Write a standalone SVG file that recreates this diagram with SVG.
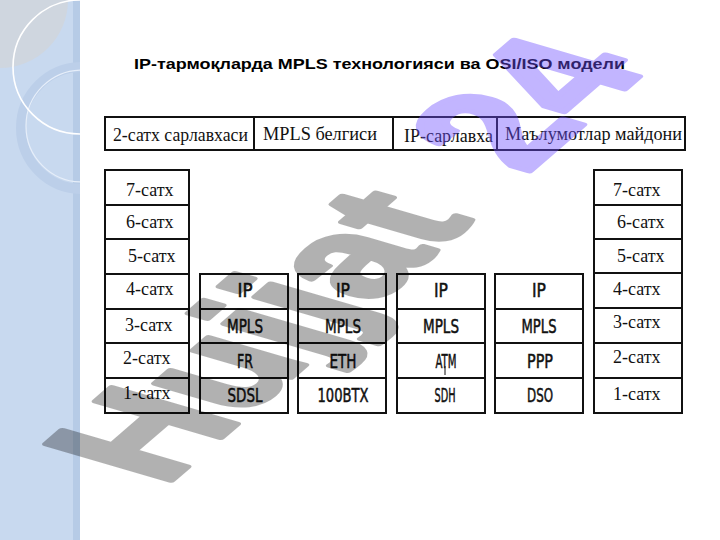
<svg xmlns="http://www.w3.org/2000/svg" width="720" height="540" viewBox="0 0 720 540">
<defs>
<style>
.box{fill:#fff;stroke:#111;stroke-width:2}
.ln{stroke:#111;stroke-width:2}
.ser{font-family:"Liberation Serif","Times New Roman",serif;font-size:18px;fill:#111}
.tech{font-family:"DejaVu Sans Condensed","DejaVu Sans","Liberation Sans",sans-serif;font-size:20px;fill:#111;stroke:#111;stroke-width:0.5;text-anchor:middle}
.title{font-family:"Liberation Sans",Arial,sans-serif;font-weight:bold;font-size:15px;fill:#000}
.wm{font-family:"Liberation Sans",Arial,sans-serif;font-weight:bold;font-size:100px;stroke-width:4;stroke-linejoin:round}
</style>
<clipPath id="strip"><rect x="0" y="0" width="80" height="540"/></clipPath>
</defs>
<rect width="720" height="540" fill="#fff"/>
<g id="sidebar" clip-path="url(#strip)">
<rect x="0" y="0" width="80" height="540" fill="#c8d9ef"/>
<rect x="73" y="0" width="7" height="540" fill="#b6cbe6"/>
<circle cx="0" cy="0" r="68" fill="#cfd6df"/>
<circle cx="82" cy="128" r="61" fill="none" stroke="#bccfe9" stroke-width="10"/>
<circle cx="82" cy="126" r="56" fill="none" stroke="#e6eef9" stroke-width="1.2"/>
<circle cx="80" cy="67" r="67" fill="none" stroke="#ffffff" stroke-width="1.6"/>
</g>
<text class="title" x="134" y="69" textLength="491" lengthAdjust="spacingAndGlyphs">IP-тармоқларда MPLS технологияси ва OSI/ISO модели</text>
<g id="header">
<rect class="box" x="105" y="117" width="580" height="33" stroke-width="2.5"/>
<g id="h-l2"><text class="ser" x="113" y="141" textLength="135" lengthAdjust="spacingAndGlyphs">2-сатх сарлавхаси</text></g>
<line class="ln" x1="254" y1="117" x2="254" y2="150"/>
<g id="h-mpls"><text class="ser" x="263" y="140" textLength="114" lengthAdjust="spacingAndGlyphs">MPLS белгиси</text></g>
<line class="ln" x1="393" y1="117" x2="393" y2="150" stroke-width="2.5"/>
<g id="h-ip"><text class="ser" x="404" y="142" textLength="89" lengthAdjust="spacingAndGlyphs">IP-сарлавха</text></g>
<line class="ln" x1="497" y1="117" x2="497" y2="150" stroke-width="2.5"/>
<g id="h-data"><text class="ser" x="505" y="140" textLength="177" lengthAdjust="spacingAndGlyphs">Маълумотлар майдони</text></g>
</g>
<g id="osi-left">
<rect class="box" x="105" y="170" width="84" height="243"/>
<line class="ln" x1="105" y1="205" x2="189" y2="205"/>
<line class="ln" x1="105" y1="239" x2="189" y2="239"/>
<line class="ln" x1="105" y1="274" x2="189" y2="274"/>
<line class="ln" x1="105" y1="309" x2="189" y2="309"/>
<line class="ln" x1="105" y1="343" x2="189" y2="343"/>
<line class="ln" x1="105" y1="378" x2="189" y2="378"/>
<text class="ser" x="126" y="196">7-сатх</text>
<text class="ser" x="126" y="228">6-сатх</text>
<text class="ser" x="128" y="262">5-сатх</text>
<text class="ser" x="126" y="295">4-сатх</text>
<text class="ser" x="125" y="331">3-сатх</text>
<text class="ser" x="123" y="364">2-сатх</text>
<text class="ser" x="123" y="399">1-сатх</text>
</g>
<g id="stack-fr">
<rect class="box" x="200" y="274" width="88" height="139"/>
<line class="ln" x1="200" y1="309" x2="288" y2="309"/>
<line class="ln" x1="200" y1="343" x2="288" y2="343"/>
<line class="ln" x1="200" y1="378" x2="288" y2="378"/>
<text class="tech" x="245" y="297" textLength="15" lengthAdjust="spacingAndGlyphs">IP</text>
<text class="tech" x="245" y="333" textLength="36" lengthAdjust="spacingAndGlyphs">MPLS</text>
<text class="tech" x="245" y="368" textLength="16" lengthAdjust="spacingAndGlyphs">FR</text>
<text class="tech" x="245" y="402" textLength="35" lengthAdjust="spacingAndGlyphs">SDSL</text>
</g>
<g id="stack-eth">
<rect class="box" x="298" y="274" width="88" height="139"/>
<line class="ln" x1="298" y1="309" x2="386" y2="309"/>
<line class="ln" x1="298" y1="343" x2="386" y2="343"/>
<line class="ln" x1="298" y1="378" x2="386" y2="378"/>
<text class="tech" x="343" y="297" textLength="14" lengthAdjust="spacingAndGlyphs">IP</text>
<text class="tech" x="343" y="333" textLength="36" lengthAdjust="spacingAndGlyphs">MPLS</text>
<text class="tech" x="343" y="368" textLength="27" lengthAdjust="spacingAndGlyphs">ETH</text>
<text class="tech" x="343" y="402" textLength="51" lengthAdjust="spacingAndGlyphs">100BTX</text>
</g>
<g id="stack-atm">
<rect class="box" x="397" y="274" width="88" height="139"/>
<line class="ln" x1="397" y1="309" x2="485" y2="309"/>
<line class="ln" x1="397" y1="343" x2="485" y2="343"/>
<line class="ln" x1="397" y1="378" x2="485" y2="378"/>
<text class="tech" x="441" y="297" textLength="14" lengthAdjust="spacingAndGlyphs">IP</text>
<text class="tech" x="441" y="333" textLength="36" lengthAdjust="spacingAndGlyphs">MPLS</text>
<text class="tech" x="446" y="368" textLength="21" lengthAdjust="spacingAndGlyphs">ATM</text>
<line x1="445" y1="366" x2="445" y2="375" stroke="#111" stroke-width="1"/>
<text class="tech" x="445" y="402" textLength="21" lengthAdjust="spacingAndGlyphs">SDH</text>
</g>
<g id="stack-ppp">
<rect class="box" x="495" y="274" width="88" height="139"/>
<line class="ln" x1="495" y1="309" x2="583" y2="309"/>
<line class="ln" x1="495" y1="343" x2="583" y2="343"/>
<line class="ln" x1="495" y1="378" x2="583" y2="378"/>
<text class="tech" x="539" y="297" textLength="14" lengthAdjust="spacingAndGlyphs">IP</text>
<text class="tech" x="539" y="333" textLength="35" lengthAdjust="spacingAndGlyphs">MPLS</text>
<text class="tech" x="540" y="368" textLength="26" lengthAdjust="spacingAndGlyphs">PPP</text>
<text class="tech" x="540" y="402" textLength="26" lengthAdjust="spacingAndGlyphs">DSO</text>
</g>
<g id="osi-right">
<rect class="box" x="594" y="170" width="88" height="243"/>
<line class="ln" x1="594" y1="205" x2="682" y2="205"/>
<line class="ln" x1="594" y1="239" x2="682" y2="239"/>
<line class="ln" x1="594" y1="273" x2="682" y2="273"/>
<line class="ln" x1="594" y1="308" x2="682" y2="308"/>
<line class="ln" x1="594" y1="343" x2="682" y2="343"/>
<line class="ln" x1="594" y1="378" x2="682" y2="378"/>
<text class="ser" x="613" y="196">7-сатх</text>
<text class="ser" x="617" y="228">6-сатх</text>
<text class="ser" x="617" y="262">5-сатх</text>
<text class="ser" x="613" y="295">4-сатх</text>
<text class="ser" x="613" y="328">3-сатх</text>
<text class="ser" x="613" y="363">2-сатх</text>
<text class="ser" x="613" y="400">1-сатх</text>
</g>
<g id="watermark" transform="matrix(1.117,-0.965,1.816,0.531,163.7,487.1)">
<g opacity="0.3"><text class="wm" x="0" y="0" fill="#000" stroke="#000">Hujjat</text></g>
<g opacity="0.42"><text class="wm" x="324" y="0" fill="#7050ff" stroke="#7050ff">24</text></g>
</g>
</svg>
